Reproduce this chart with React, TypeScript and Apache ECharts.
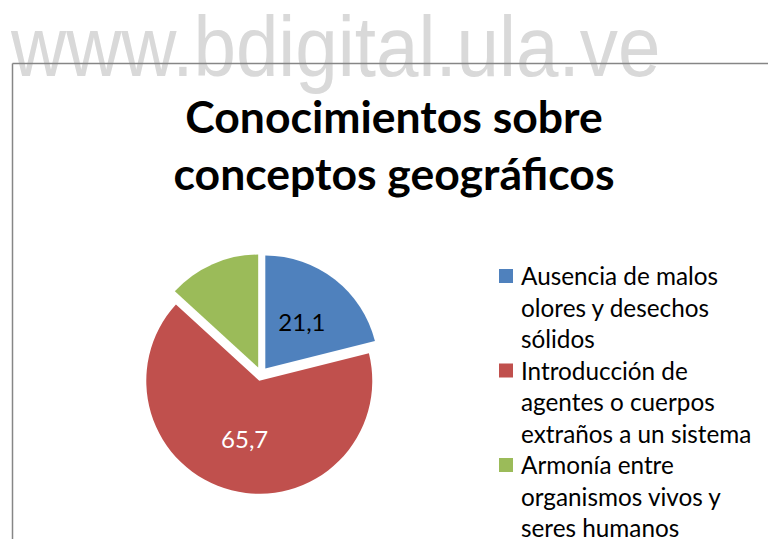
import React, { useEffect, useRef } from 'react';
import * as echarts from 'echarts';

const watermark = 'www.bdigital.ula.ve';
const titleLines = ['Conocimientos sobre', 'conceptos geográficos'];
const categories = [
  'Ausencia de malos olores y desechos sólidos',
  'Introducción de agentes o cuerpos extraños a un sistema',
  'Armonía entre organismos vivos y seres humanos',
];
const legendLines = [
  ['Ausencia de malos', 'olores y desechos', 'sólidos'],
  ['Introducción de', 'agentes o cuerpos', 'extraños a un sistema'],
  ['Armonía entre', 'organismos vivos y', 'seres humanos'],
];
const values = [21.1, 65.7, 13.2];
const showLabel = [true, true, false];

const colors = ['#4f81bd', '#c0504d', '#9bbb59'];
const labelColors = ['#000000', '#ffffff', '#000000'];

export default function App() {
  const ref = useRef<HTMLDivElement>(null);
  useEffect(() => {
    if (!ref.current) return;
    const chart = echarts.init(ref.current, undefined, { renderer: 'svg' });
    const iconPath =
      'path://M0,0h17v0h-17z M0,9.25h14v14h-14z M0,94.5h17v0h-17z';
    chart.setOption({
      animation: false,
      backgroundColor: '#ffffff',
      title: {
        text: titleLines.join('\n'),
        left: 389,
        top: 82,
        textAlign: 'center',
        padding: 5,
        textStyle: {
          fontFamily: 'Lato',
          fontWeight: 'bold',
          fontSize: 44.5,
          lineHeight: 57,
          color: '#000000',
        },
      },
      legend: {
        orient: 'vertical',
        left: 499,
        top: 259.75,
        height: 320,
        padding: 0,
        itemGap: 0,
        itemWidth: 17,
        itemHeight: 94.5,
        selectedMode: false,
        icon: iconPath,
        itemStyle: { borderWidth: 0 },
        formatter: (name: string) => legendLines[categories.indexOf(name)].join('\n'),
        textStyle: {
          fontFamily: 'Lato',
          fontSize: 24.3,
          lineHeight: 31.5,
          color: '#000000',
        },
        data: categories,
      },
      graphic: [
        {
          type: 'text',
          x: 11,
          y: 46,
          scaleX: 0.888,
          z: -10,
          style: {
            text: watermark,
            fontFamily: 'Liberation Sans',
            fontSize: 86,
            fill: '#d9d9d9',
            verticalAlign: 'middle',
            align: 'left',
          },
        },
        {
          type: 'line',
          shape: { x1: 12.5, y1: 63.5, x2: 768, y2: 63.5 },
          style: { stroke: '#868686', lineWidth: 1.5 },
        },
        {
          type: 'line',
          shape: { x1: 12.5, y1: 63.5, x2: 12.5, y2: 539 },
          style: { stroke: '#868686', lineWidth: 1.5 },
        },
      ],
      series: [
        {
          type: 'pie',
          center: [261, 374],
          radius: 113,
          startAngle: 90,
          clockwise: true,
          selectedMode: 'multiple',
          selectedOffset: 7,
          avoidLabelOverlap: false,
          emphasis: { disabled: true },
          itemStyle: { borderWidth: 0 },
          label: {
            show: true,
            position: 'inside',
            fontFamily: 'Lato',
            fontSize: 24,
            formatter: (p: any) => String(p.value).replace('.', ','),
          },
          labelLine: { show: false },
          data: categories.map((name, i) => ({
            name,
            value: values[i],
            selected: true,
            itemStyle: { color: colors[i] },
            label: {
              show: showLabel[i],
              color: labelColors[i],
              offset: i === 1 ? [18, 0] : [2, -1],
            },
          })),
        },
      ],
    });
    return () => chart.dispose();
  }, []);
  return (
    <div
      ref={ref}
      style={{ position: 'fixed', left: 0, top: 0, width: 768, height: 539 }}
    />
  );
}
